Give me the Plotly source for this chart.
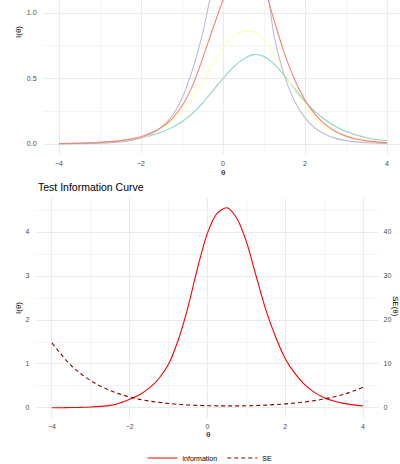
import plotly.graph_objects as go

# ---------------- data ----------------
theta = [-4, -3.75, -3.5, -3.25, -3, -2.75, -2.5, -2.25, -2, -1.75, -1.5, -1.25, -1,
         -0.75, -0.5, -0.25, 0, 0.25, 0.5, 0.75, 1, 1.25, 1.5, 1.75, 2, 2.25, 2.5,
         2.75, 3, 3.25, 3.5, 3.75, 4]

item1 = [0.0034, 0.0047, 0.0065, 0.009, 0.013, 0.018, 0.025, 0.035, 0.048, 0.066, 0.091,
         0.125, 0.17, 0.232, 0.312, 0.405, 0.50, 0.585, 0.648, 0.682, 0.668, 0.61,
         0.52, 0.42, 0.325, 0.245, 0.183, 0.133, 0.095, 0.068, 0.048, 0.034, 0.025]
item2 = [0.001, 0.0015, 0.0023, 0.0035, 0.0055, 0.009, 0.015, 0.026, 0.045, 0.075, 0.12,
         0.175, 0.245, 0.35, 0.476, 0.61, 0.73, 0.82, 0.86, 0.855, 0.794, 0.68,
         0.54, 0.405, 0.285, 0.195, 0.132, 0.09, 0.061, 0.042, 0.03, 0.021, 0.015]
item3 = [0.0007, 0.0012, 0.002, 0.0033, 0.0055, 0.009, 0.015, 0.027, 0.046, 0.08, 0.13,
         0.21, 0.35, 0.56, 0.84, 1.2, 1.45, 1.6, 1.6, 1.5, 1.32, 0.82,
         0.52, 0.325, 0.2, 0.12, 0.072, 0.043, 0.026, 0.016, 0.01, 0.007, 0.005]
item4 = [0.0025, 0.0037, 0.0055, 0.008, 0.012, 0.018, 0.026, 0.038, 0.056, 0.085, 0.127,
         0.19, 0.29, 0.44, 0.65, 0.88, 1.1, 1.35, 1.45, 1.4, 1.2, 0.94,
         0.69, 0.49, 0.335, 0.225, 0.148, 0.095, 0.06, 0.038, 0.024, 0.016, 0.01]
item_names = ["Item 1", "Item 2", "Item 3", "Item 4"]
item_colors = ["#8DD3C7", "#FFFFB3", "#BEBADA", "#FB8072"]

info = [0.005, 0.007, 0.01, 0.015, 0.022, 0.036, 0.06, 0.115, 0.2, 0.3, 0.45,
        0.67, 1.0, 1.55, 2.3, 3.2, 3.98, 4.43, 4.55, 4.32, 3.78, 3.0,
        2.23, 1.62, 1.12, 0.78, 0.53, 0.355, 0.235, 0.158, 0.105, 0.07, 0.045]

theta_se = [-4, -3.5, -3, -2.5, -2, -1.5, -1, -0.5, 0, 0.5, 1, 1.5, 2, 2.5, 3, 3.5, 4]
se = [14.8, 9.6, 6.2, 3.95, 2.5, 1.58, 1.02, 0.68, 0.52, 0.47, 0.51, 0.66, 0.94,
      1.37, 2.05, 3.1, 4.7]

x_ticks = [-4, -2, 0, 2, 4]
top_y_ticks = [0.0, 0.5, 1.0]
top_y_labels = ["0.0", "0.5", "1.0"]
info_ticks = [0, 1, 2, 3, 4]
se_ticks = [0, 10, 20, 30, 40]

# ---------------- figure ----------------
W, H = 400, 464
FONT = "Liberation Sans, Arial, sans-serif"
TICKC = "#4D4D4D"
GRID = "#EBEBEB"
MINOR = "#F4F4F4"
LW = 1.1

def px(x):
    return x / W

def py(y):
    return 1 - y / H

fig = go.Figure()

for name, vals, col in zip(item_names, [item1, item2, item3, item4], item_colors):
    fig.add_trace(go.Scatter(x=theta, y=vals, mode="lines", name=name,
                             line=dict(color=col, width=LW, shape="spline", smoothing=0.8),
                             xaxis="x", yaxis="y", showlegend=False))

fig.add_trace(go.Scatter(x=theta, y=info, mode="lines", name="information",
                         line=dict(color="#FF0000", width=LW, shape="spline", smoothing=0.8),
                         xaxis="x2", yaxis="y2"))
fig.add_trace(go.Scatter(x=theta_se, y=se, mode="lines", name="SE",
                         line=dict(color="#8B0000", width=LW, dash="4px,3px", shape="spline"),
                         xaxis="x2", yaxis="y3"))

tickfont = dict(family=FONT, size=7, color=TICKC)

common_x = dict(showline=False, zeroline=False, ticks="", tickfont=tickfont, automargin=False,
                gridcolor=GRID, gridwidth=1, tickvals=x_ticks,
                minor=dict(showgrid=True, gridcolor=MINOR, gridwidth=1, dtick=1, tick0=-4))

top_left, top_bottom = 42.6, 154
bot_left, bot_right, bot_top, bot_bottom = 36.4, 378.6, 197.8, 418

fig.update_layout(
    width=W, height=H,
    margin=dict(l=0, r=0, t=0, b=0, autoexpand=False),
    paper_bgcolor="white", plot_bgcolor="white",
    font=dict(family=FONT, color="black"),
    xaxis=dict(domain=[px(top_left), 1.0], range=[-4.4, -4.4 + (W - top_left) / 41.0],
               anchor="y", ticklabelstandoff=4, **common_x),
    yaxis=dict(domain=[py(top_bottom), 1.0], range=[(144 - top_bottom) / 131.0, 144 / 131.0],
               anchor="x", showline=False, zeroline=False, ticks="", tickfont=tickfont,
               automargin=False,
               tickvals=top_y_ticks, ticktext=top_y_labels, gridcolor=GRID, gridwidth=1,
               ticklabelstandoff=5,
               minor=dict(showgrid=True, gridcolor=MINOR, gridwidth=1, dtick=0.25, tick0=0)),
    xaxis2=dict(domain=[px(bot_left), px(bot_right)], range=[-4.4, 4.4], anchor="y2",
                ticklabelstandoff=3, **common_x),
    yaxis2=dict(domain=[py(bot_bottom), py(bot_top)], range=[-0.2275, 4.7775], anchor="x2",
                showline=False, zeroline=False, ticks="", tickfont=tickfont, automargin=False,
                tickvals=info_ticks, gridcolor=GRID, gridwidth=1, ticklabelstandoff=6,
                minor=dict(showgrid=True, gridcolor=MINOR, gridwidth=1, dtick=0.5, tick0=0)),
    yaxis3=dict(range=[-2.275, 47.775], overlaying="y2", side="right", anchor="x2",
                showline=False, zeroline=False, ticks="", tickfont=tickfont, automargin=False,
                tickvals=se_ticks, showgrid=False, ticklabelstandoff=4),
    showlegend=True,
    legend=dict(orientation="h", x=px(210), xanchor="center", y=py(458), yanchor="middle",
                font=dict(family=FONT, size=7, color="black"), bgcolor="rgba(0,0,0,0)",
                itemwidth=30),
)

ann = [
    dict(text="I(θ)", x=px(18), y=py(32), textangle=-90, size=8),
    dict(text="θ", x=px(223), y=py(172), textangle=0, size=8),
    dict(text="I(θ)", x=px(18), y=py(308), textangle=-90, size=8),
    dict(text="SE(θ)", x=px(396), y=py(306), textangle=90, size=8),
    dict(text="θ", x=px(208), y=py(434), textangle=0, size=8),
]
for a in ann:
    fig.add_annotation(text=a["text"], x=a["x"], y=a["y"], xref="paper", yref="paper",
                       xanchor="center", yanchor="middle", textangle=a["textangle"],
                       showarrow=False, font=dict(family=FONT, size=a["size"], color="black"))

fig.add_annotation(text="Test Information Curve", x=px(35.5), y=py(187), xref="paper", yref="paper",
                   xanchor="left", yanchor="middle", showarrow=False,
                   font=dict(family=FONT, size=10.5, color="black"))

fig.write_html("out.html",
               config={"displayModeBar": False},
               post_script="document.body.style.margin='0';document.body.style.padding='0';"
                           "document.body.style.overflow='hidden';")
